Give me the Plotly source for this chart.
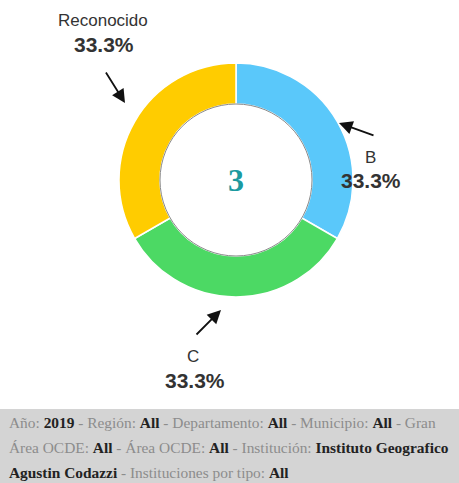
import plotly.graph_objects as go

categories = ["B", "C", "Reconocido"]
values = [1, 1, 1]
colors = ["#5ac8fa", "#4cd964", "#ffcc00"]
total_label = "3"

footer_lines = [
    [("Año: ", "2019"), (" - Región: ", "All"), (" - Departamento: ", "All"), (" - Municipio: ", "All"), (" - Gran", None)],
    [("Área OCDE: ", "All"), (" - Área OCDE: ", "All"), (" - Institución: ", "Instituto Geografico")],
    [("", "Agustin Codazzi"), (" - Instituciones por tipo: ", "All")],
]

W, H = 459, 483
cx, cy, R, r_in = 236, 180, 117, 76

def px(x):
    return x / W

def py(y):
    return 1 - y / H

fig = go.Figure()
fig.add_trace(go.Pie(
    labels=categories, values=values, sort=False, direction="clockwise", rotation=0,
    hole=r_in / R, marker=dict(colors=colors, line=dict(color="white", width=1.5)),
    textinfo="none", hoverinfo="label+percent", showlegend=False,
    domain=dict(x=[px(cx - R), px(cx + R)], y=[py(cy + R), py(cy - R)]),
))

shapes = [
    dict(type="rect", xref="paper", yref="paper", x0=0, x1=1, y0=0, y1=py(409),
         fillcolor="#d4d4d4", line=dict(width=0), layer="below"),
    dict(type="circle", xref="paper", yref="paper", x0=px(cx - r_in), x1=px(cx + r_in),
         y0=py(cy + r_in), y1=py(cy - r_in), line=dict(color="#8a8a8a", width=1)),
]

total = sum(values)
pct = [f"{v / total * 100:.1f}%" for v in values]
name_pos = {"Reconocido": (103, 20), "B": (370, 157), "C": (193, 356)}
pct_pos = {"Reconocido": (104, 44), "B": (371, 180), "C": (195, 380)}
arrow = {"Reconocido": ((105, 71), (125, 103)), "B": ((375, 136), (339, 123)), "C": ((195, 336), (221, 310))}

ann = []
for cat, p in zip(categories, pct):
    lx, ly = name_pos[cat]
    ann.append(dict(x=px(lx), y=py(ly), xref="paper", yref="paper", showarrow=False,
                    text=cat, font=dict(family="Liberation Sans, Arial", size=17, color="#333"),
                    xanchor="center", yanchor="middle"))
    lx, ly = pct_pos[cat]
    ann.append(dict(x=px(lx), y=py(ly), xref="paper", yref="paper", showarrow=False,
                    text=f"<b>{p}</b>", font=dict(family="Liberation Sans, Arial", size=21, color="#333"),
                    xanchor="center", yanchor="middle"))
    (tx, ty), (hx, hy) = arrow[cat]
    ann.append(dict(x=px(hx), y=py(hy), ax=tx - hx, ay=ty - hy, xref="paper", yref="paper",
                    axref="pixel", ayref="pixel", showarrow=True, arrowhead=2, arrowsize=1.5,
                    arrowwidth=1.8, arrowcolor="#111", text=""))

ann.append(dict(x=px(cx), y=py(cy), xref="paper", yref="paper", showarrow=False, text=f"<b>{total_label}</b>",
                font=dict(family="Liberation Serif, Times New Roman", size=32, color="#1b9aa0"),
                xanchor="center", yanchor="middle"))

for i, line in enumerate(footer_lines):
    parts = []
    for lab, val in line:
        parts.append(lab)
        if val:
            parts.append(f"<span style='color:#222'><b>{val}</b></span>")
    ann.append(dict(x=px(7), y=py(422 + i * 25), xref="paper", yref="paper", showarrow=False,
                    xanchor="left", yanchor="middle", text="".join(parts),
                    font=dict(family="Liberation Serif, Times New Roman", size=15.4, color="#8c8c8c")))

fig.update_layout(width=W, height=H, margin=dict(l=0, r=0, t=0, b=0),
                  paper_bgcolor="white", plot_bgcolor="white",
                  shapes=shapes, annotations=ann)
fig.write_html("out.html", config={"displayModeBar": False},
               post_script="document.body.style.margin='0';")
